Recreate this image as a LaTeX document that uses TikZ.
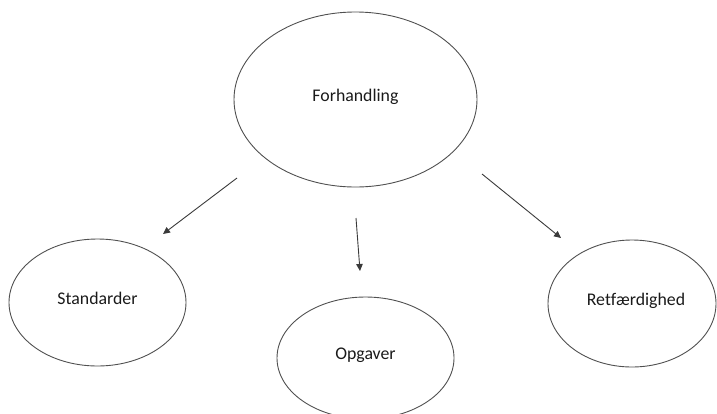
\documentclass[tikz,border=0pt]{standalone}
\usepackage{fontspec}
\setmainfont[Ligatures=NoCommon]{Carlito}
\usetikzlibrary{shapes.geometric,arrows.meta}
\definecolor{outline}{HTML}{505050}
\definecolor{arrowgray}{HTML}{3A3A3A}
\definecolor{labeltext}{HTML}{1A1A1A}
\begin{document}
\begin{tikzpicture}[x=1pt,y=-1pt,
  bubble/.style={ellipse,draw=outline,line width=0.9pt,inner sep=0pt,
    text height=13pt,text depth=9.3pt,
    text=labeltext,font=\fontsize{17.8}{20}\selectfont},
  link/.style={draw=arrowgray,line width=0.9pt,
    -{Triangle[length=7pt,width=6.5pt]}}]
\useasboundingbox (0,0) rectangle (717,413);
\clip (0,0) rectangle (717,413);

% central concept and its three branches
\node[bubble,minimum width=243pt,minimum height=175pt] (forh) at (355.5,99.5) {Forhandling};
\node[bubble,minimum width=177pt,minimum height=127pt] (stand) at (97.5,302.5) {Standarder};
\node[bubble,minimum width=177pt,minimum height=122pt] (opg) at (365.5,358) {Opgaver};
\node[bubble,minimum width=168pt,minimum height=127pt] (ret) at (632,303.5) {\hspace*{8pt}Retfærdighed};

% free-standing arrow ends between the bubbles
\coordinate (l1) at (237,178);
\coordinate (l2) at (163,234);
\coordinate (m1) at (356,218);
\coordinate (m2) at (360,271);
\coordinate (r1) at (482,174);
\coordinate (r2) at (561,238);

\draw[link] (l1) -- (l2);
\draw[link] (m1) -- (m2);
\draw[link] (r1) -- (r2);
\end{tikzpicture}
\end{document}
